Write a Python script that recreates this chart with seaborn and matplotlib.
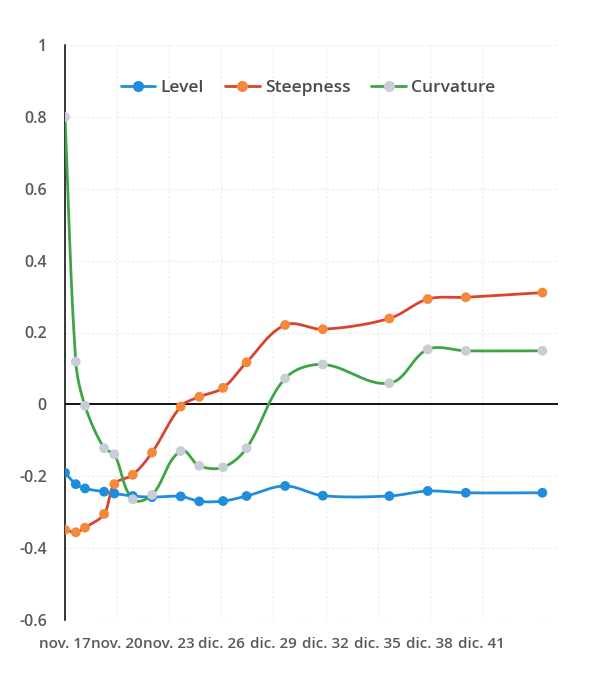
import numpy as np
import pandas as pd
import matplotlib
matplotlib.use("Agg")
import matplotlib.pyplot as plt
from matplotlib.lines import Line2D
import seaborn as sns

# Time to maturity (years from Nov 2017) and factor loadings
years = [0.0, 0.62, 1.15, 2.25, 2.84, 3.90, 5.01, 6.66, 7.73, 9.10,
         10.45, 12.67, 14.84, 18.67, 20.88, 23.07, 27.48]
level = [-0.190, -0.222, -0.234, -0.243, -0.248, -0.255, -0.258, -0.256, -0.270,
         -0.269, -0.255, -0.227, -0.254, -0.255, -0.241, -0.246, -0.246]
steepness = [-0.349, -0.356, -0.343, -0.305, -0.222, -0.196, -0.134, -0.006, 0.021,
             0.046, 0.117, 0.221, 0.209, 0.239, 0.293, 0.298, 0.311]
curvature = [0.800, 0.119, -0.004, -0.122, -0.139, -0.264, -0.252, -0.130, -0.171,
             -0.175, -0.122, 0.072, 0.111, 0.059, 0.153, 0.149, 0.149]

tick_years = [0, 3, 6, 9, 12, 15, 18, 21, 24]
tick_labels = ["nov. 17", "nov. 20", "nov. 23", "dic. 26", "dic. 29",
               "dic. 32", "dic. 35", "dic. 38", "dic. 41"]
y_ticks = [1, 0.8, 0.6, 0.4, 0.2, 0, -0.2, -0.4, -0.6]

series = [
    ("Level", level, "#1f8ddc", "#1f8ddc"),
    ("Steepness", steepness, "#d8452c", "#f4893c"),
    ("Curvature", curvature, "#3ea545", "#c9ced6"),
]

X_LIM = (0, 28.38)
Y_LIM = (-0.6, 1.0)
AX_RECT_PX = (65, 45, 558, 620)  # left, top, right, bottom in figure pixels


def smooth_curve(x, y, sx, sy, n=40):
    """Bezier smoothing through every point; tangent handles scale with
    each segment's on-screen length so short steps do not overshoot."""
    p = np.column_stack([np.asarray(x) * sx, np.asarray(y) * sy]).astype(float)
    ext = np.vstack([p[0], p, p[-1]])
    tang = ext[2:] - ext[:-2]
    norms = np.linalg.norm(tang, axis=1, keepdims=True)
    norms[norms == 0] = 1
    tang = tang / norms
    t = np.linspace(0, 1, n)[:, None]
    out = []
    for i in range(len(p) - 1):
        p0, p3 = p[i], p[i + 1]
        seg_len = np.linalg.norm(p3 - p0)
        c1 = p0 + tang[i] * seg_len / 3.0
        c2 = p3 - tang[i + 1] * seg_len / 3.0
        seg = ((1 - t) ** 3) * p0 + 3 * ((1 - t) ** 2) * t * c1 \
            + 3 * (1 - t) * t ** 2 * c2 + t ** 3 * p3
        out.append(seg if i == 0 else seg[1:])
    out = np.vstack(out)
    return out[:, 0] / sx, out[:, 1] / sy


sns.set_theme(style="white")
plt.rcParams["font.family"] = ["Open Sans", "DejaVu Sans"]

fig = plt.figure(figsize=(5.96, 6.97), dpi=100)
l, tp, r, b = AX_RECT_PX
ax = fig.add_axes([l / 596, 1 - b / 697, (r - l) / 596, (b - tp) / 697])

# screen scale (pixels per data unit) used for the smoothing
px_x = (r - l) / (X_LIM[1] - X_LIM[0])
px_y = (b - tp) / (Y_LIM[1] - Y_LIM[0])

for name, vals, line_c, mark_c in series:
    cx, cy = smooth_curve(years, vals, px_x, px_y)
    df = pd.DataFrame({"x": cx, "y": cy})
    sns.lineplot(data=df, x="x", y="y", ax=ax, color=line_c, linewidth=2.0,
                 sort=False, estimator=None, zorder=3)
    pts = pd.DataFrame({"x": years, "y": vals})
    sns.scatterplot(data=pts, x="x", y="y", ax=ax, color=mark_c, s=50,
                    edgecolor="none", linewidth=0, zorder=4)

ax.set_xlim(*X_LIM)
ax.set_ylim(*Y_LIM)
ax.set_xticks(tick_years)
ax.set_xticklabels(tick_labels)
ax.set_yticks(y_ticks)
ax.set_yticklabels([f"{v:g}" for v in y_ticks])
ax.set_xlabel("")
ax.set_ylabel("")

ax.grid(True, color="#ebebeb", linestyle=(0, (2, 2)), linewidth=0.8)
ax.set_axisbelow(True)
ax.axhline(0, color="black", linewidth=1.3, zorder=2)

for side in ["top", "right", "bottom"]:
    ax.spines[side].set_visible(False)
ax.spines["left"].set_color("black")
ax.spines["left"].set_linewidth(1.1)

ax.tick_params(axis="y", length=0, pad=13, labelsize=11.5, labelcolor="#595959")
ax.tick_params(axis="x", length=0, pad=12, labelsize=11, labelcolor="#595959")
for lbl in ax.get_xticklabels() + ax.get_yticklabels():
    lbl.set_fontweight("semibold")

handles = [Line2D([0], [0], color=lc, linewidth=2.0, marker="o", markersize=7,
                  markerfacecolor=mc, markeredgecolor=mc)
           for _, _, lc, mc in series]
leg = ax.legend(handles, [s[0] for s in series], loc="center",
                bbox_to_anchor=(0.493, 0.926), ncol=3, frameon=False,
                fontsize=12.5, handlelength=2.0, handletextpad=0.3,
                columnspacing=1.2)
for txt in leg.get_texts():
    txt.set_color("#4a4a4a")
    txt.set_fontweight("semibold")

fig.savefig("out.png", dpi=100, facecolor="white")
